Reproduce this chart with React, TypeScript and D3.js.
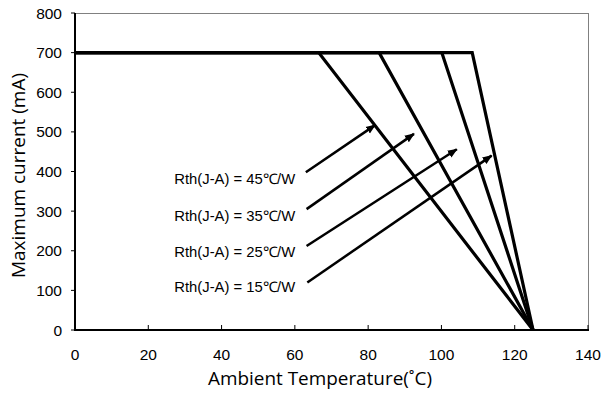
import React from "react";
import * as d3 from "d3";

const rthValues = [45, 35, 25, 15];
const kneeTemps = [66.5, 83, 100.1, 108.4];
const maxCurrent = 700;
const zeroTemp = 125;
const labelTexts = ["Rth(J-A) = 45℃/W", "Rth(J-A) = 35℃/W", "Rth(J-A) = 25℃/W", "Rth(J-A) = 15℃/W"];
const labelY = [368, 275, 184, 96];
const labelX = 60.1;
const arrowStartX = [63.0, 63.2, 63.2, 63.4];
const arrowStartY = [398, 305, 212, 120];
const arrowEndX = [81.9, 92.5, 104.2, 113.7];
const arrowEndY = [517, 495, 456, 440];
const xTicks = [0, 20, 40, 60, 80, 100, 120, 140];
const yTicks = [0, 100, 200, 300, 400, 500, 600, 700, 800];

const W = 604, H = 396;
const L = 75, R = 588, T = 13, B = 330;

export default function App() {
  const x = d3.scaleLinear().domain([0, 140]).range([L, R]);
  const y = d3.scaleLinear().domain([0, 800]).range([B, T]);
  const line = d3.line<[number, number]>().x(d => x(d[0])).y(d => y(d[1]));
  const tickFont = "'Liberation Sans', Arial, sans-serif";
  const titleFont = "'Open Sans', 'Noto Sans', sans-serif";
  return (
    <svg width={W} height={H} style={{ position: "absolute", left: 0, top: 0, background: "#fff" }}>
      <defs>
        <marker id="ah" viewBox="0 0 10 10" refX="9" refY="5" markerWidth="4" markerHeight="4" markerUnits="strokeWidth" orient="auto">
          <path d="M0,1 L10,5 L0,9 z" fill="#000" />
        </marker>
      </defs>
      <rect x={0} y={0} width={W} height={H} fill="#fff" />
      <line x1={L} y1={T + 0.5} x2={R + 0.5} y2={T + 0.5} stroke="#808080" strokeWidth={1} />
      <line x1={R + 0.5} y1={T} x2={R + 0.5} y2={B} stroke="#808080" strokeWidth={1} />
      {yTicks.map(t => (
        <g key={"y" + t}>
          <line x1={L - 4} x2={L} y1={y(t)} y2={y(t)} stroke="#000" strokeWidth={1} />
          <text x={62} y={y(t) + 5.5} textAnchor="end" fontFamily={tickFont} fontSize={15.5} fill="#000">{t}</text>
        </g>
      ))}
      {xTicks.map(t => (
        <g key={"x" + t}>
          <line x1={x(t)} x2={x(t)} y1={B - 5} y2={B} stroke="#000" strokeWidth={1} />
          <text x={x(t)} y={360} textAnchor="middle" fontFamily={tickFont} fontSize={15.5} fill="#000">{t}</text>
        </g>
      ))}
      {rthValues.map((r, i) => (
        <path key={"s" + r}
          d={line([[0, maxCurrent], [kneeTemps[i], maxCurrent], [zeroTemp, 0]]) || ""}
          fill="none" stroke="#000" strokeWidth={3.2} strokeLinejoin="miter" />
      ))}
      <line x1={L} y1={T} x2={L} y2={B + 1} stroke="#000" strokeWidth={2} />
      <line x1={L - 1} y1={B} x2={R + 1} y2={B} stroke="#000" strokeWidth={2} />
      {rthValues.map((r, i) => (
        <line key={"a" + r} x1={x(arrowStartX[i])} y1={y(arrowStartY[i])} x2={x(arrowEndX[i])} y2={y(arrowEndY[i])}
          stroke="#000" strokeWidth={2.5} markerEnd="url(#ah)" />
      ))}
      {labelTexts.map((s, i) => (
        <text key={"l" + i} x={x(labelX)} y={y(labelY[i])} textAnchor="end" fontFamily={tickFont} fontSize={14.5}
          textLength={121} lengthAdjust="spacingAndGlyphs" fill="#000">{s}</text>
      ))}
      <text transform={`translate(25,175.5) rotate(-90)`} textAnchor="middle" fontFamily={titleFont} fontSize={18}
        textLength={205} lengthAdjust="spacingAndGlyphs" fill="#000">Maximum current (mA)</text>
      <text x={320} y={385} textAnchor="middle" fontFamily={titleFont} fontSize={18}
        textLength={224} lengthAdjust="spacingAndGlyphs" fill="#000">Ambient Temperature(˚C)</text>
    </svg>
  );
}
